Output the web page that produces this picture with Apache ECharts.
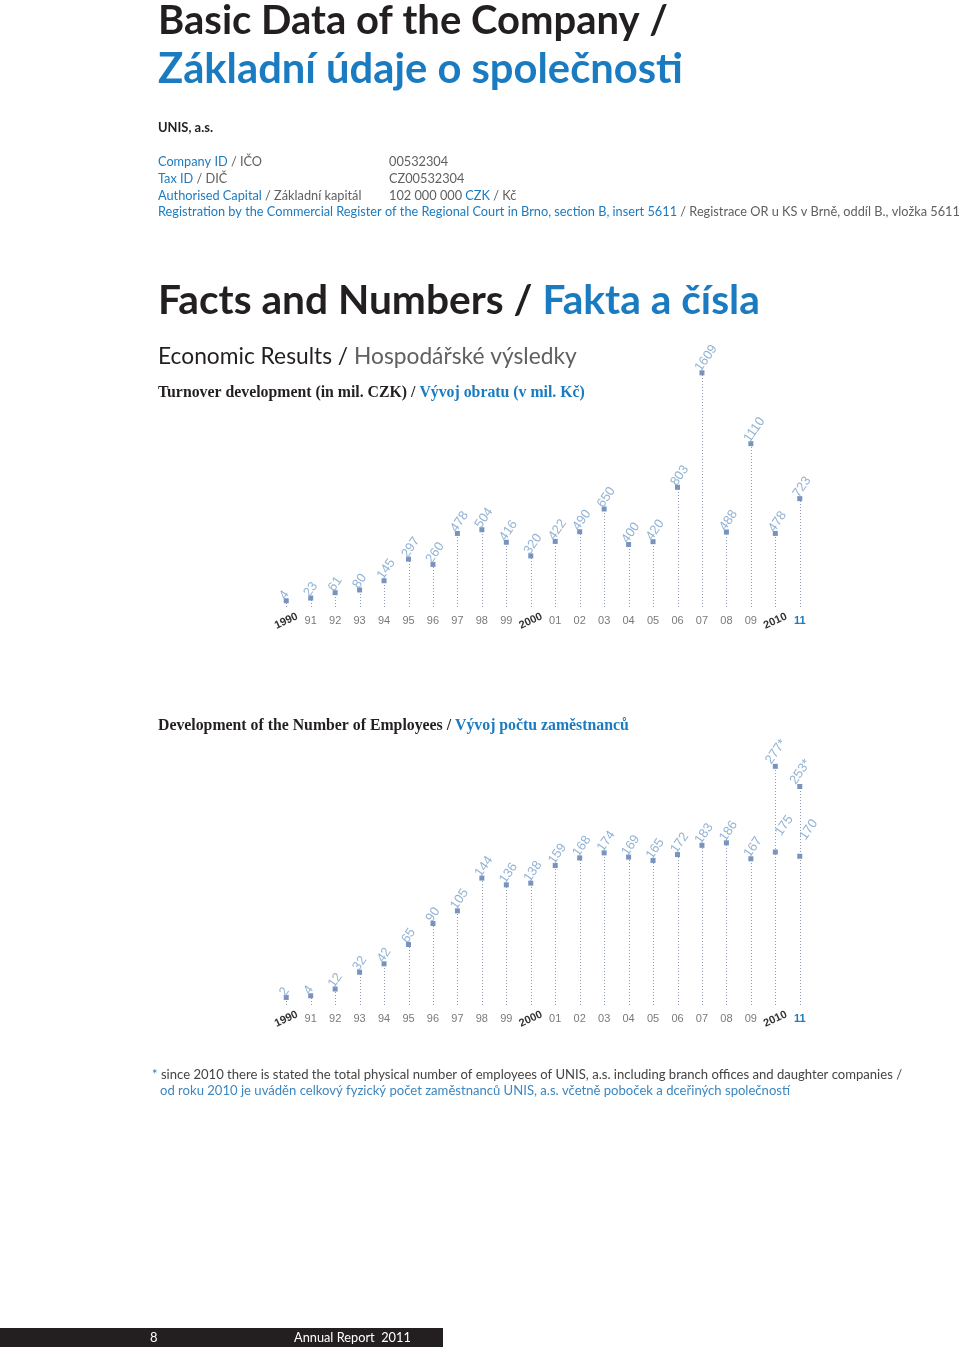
<!DOCTYPE html>
<html><head><meta charset="utf-8">
<script src="https://cdn.jsdelivr.net/npm/echarts@6/dist/echarts.min.js"></script>
<style>html,body{margin:0;padding:0;background:#fff}#c{width:960px;height:1349px}</style>
</head><body><div id="c"></div>
<script>
// ---- data ----
const years = ['1990','91','92','93','94','95','96','97','98','99','2000','01','02','03','04','05','06','07','08','09','2010','11'];
const decades = ['1990','2000','2010'];
const turnover = [4,23,61,80,145,297,260,478,504,416,320,422,490,650,400,420,803,1609,488,1110,478,723];
const employees = [2,4,12,32,42,65,90,105,144,136,138,159,168,174,169,165,172,183,186,167,175,170];
const employeesTotal = [null,null,null,null,null,null,null,null,null,null,null,null,null,null,null,null,null,null,null,null,277,253];

// ---- styles ----
const BLUE = '#1b7bc0', DARK = '#231f20', GREY = '#606060';
const LABEL = '#93b3d4', MARK = '#7893bd', STEM = '#8c9bb0';
const SANS = 'Lato', SERIF = 'Liberation Serif', NUM = 'Liberation Sans';

const mctx = document.createElement('canvas').getContext('2d');
function fit(str, weight, family, width) {
  mctx.font = weight + ' 100px "' + family + '"';
  return 100 * width / mctx.measureText(str).width;
}

function richText(x, baseline, parts, weight, family, size, align) {
  const rich = {};
  let text = '';
  parts.forEach((p, i) => {
    rich['p' + i] = {fill: p[1], fontSize: size, fontWeight: weight, fontFamily: family};
    text += '{p' + i + '|' + p[0] + '}';
  });
  return {type: 'text', x: x, y: baseline - 0.3 * size, z: 10,
    style: {text: text, rich: rich, fontSize: size, fontWeight: weight, fontFamily: family,
      verticalAlign: 'middle', align: align || 'left'}};
}
function joined(parts) { return parts.map(p => p[0]).join(''); }

const g = [];
function line(x, baseline, parts, weight, family, width, sizeOverride) {
  const size = sizeOverride || fit(joined(parts), weight, family, width);
  g.push(richText(x, baseline, parts, weight, family, size));
  return size;
}

// header
line(158, 33, [['Basic Data of the Company /', DARK]], 'bold', SANS, 510);
line(158, 82, [['Základní údaje o společnosti', BLUE]], 'bold', SANS, 525);
line(158, 132, [['UNIS, a.s.', DARK]], 'bold', SANS, 55);
const bodySize = fit('Registration by the Commercial Register of the Regional Court in Brno, section B, insert 5611 / Registrace OR u KS v Brně, oddíl B., vložka 5611', 'normal', SANS, 802);
line(158, 166, [['Company ID', BLUE], [' / IČO', GREY]], 'normal', SANS, 0, bodySize);
line(158, 183, [['Tax ID', BLUE], [' / DIČ', GREY]], 'normal', SANS, 0, bodySize);
line(158, 199.5, [['Authorised Capital', BLUE], [' / Základní kapitál', GREY]], 'normal', SANS, 0, bodySize);
line(158, 216, [['Registration by the Commercial Register of the Regional Court in Brno, section B, insert 5611', BLUE], [' / Registrace OR u KS v Brně, oddíl B., vložka 5611', GREY]], 'normal', SANS, 0, bodySize);
line(389, 166, [['00532304', GREY]], 'normal', SANS, 0, bodySize);
line(389, 183, [['CZ00532304', GREY]], 'normal', SANS, 0, bodySize);
line(389, 199.5, [['102 000 000 ', GREY], ['CZK', BLUE], [' / Kč', GREY]], 'normal', SANS, 0, bodySize);

line(158, 313, [['Facts and Numbers / ', DARK], ['Fakta a čísla', BLUE]], 'bold', SANS, 602);
line(158, 363, [['Economic Results / ', DARK], ['Hospodářské výsledky', GREY]], 'normal', SANS, 419);
const serifSize = line(158, 397.5, [['Turnover development (in mil. CZK) / ', DARK], ['Vývoj obratu (v mil. Kč)', BLUE]], 'bold', SERIF, 427);
line(158, 730.5, [['Development of the Number of Employees / ', DARK], ['Vývoj počtu zaměstnanců', BLUE]], 'bold', SERIF, 0, serifSize);

const noteSize = line(152, 1078.5, [['* ', BLUE], ['since 2010 there is stated the total physical number of employees of UNIS, a.s. including branch offices and daughter companies /', '#444']], 'normal', SANS, 751);
line(160, 1095, [['od roku 2010 je uváděn celkový fyzický počet zaměstnanců UNIS, a.s. včetně poboček a dceřiných společností', '#3d86bf']], 'normal', SANS, 0, noteSize);

// footer
g.push({type: 'rect', shape: {x: 0, y: 1328, width: 443, height: 19}, style: {fill: DARK}, z: 5});
line(150, 1342, [['8', '#fff']], 'normal', SANS, 0, 13);
line(294, 1342, [['Annual Report  2011', '#fff']], 'normal', SANS, 117);

// ---- charts ----
const Y = [
  {min: -40, max: 1840},
  {min: -7, max: 300}
];

function xAxes(gi) {
  const common = {type: 'category', gridIndex: gi, boundaryGap: true, position: 'bottom',
    axisLine: {show: false}, axisTick: {show: false}, splitLine: {show: false}};
  return [
    Object.assign({}, common, {
      data: years.map(y => y === '11' ? {value: y, textStyle: {color: BLUE, fontWeight: 'bold'}} : y),
      axisLabel: {interval: 0, margin: 8, fontSize: 11, color: '#7a7a7a', fontFamily: NUM,
        formatter: v => decades.includes(v) ? '' : v}
    }),
    Object.assign({}, common, {
      data: years,
      axisLabel: {interval: 0, margin: 14, rotate: 25, fontSize: 11, fontWeight: 'bold', color: '#333', fontFamily: NUM,
        align: 'center', verticalAlign: 'middle',
        formatter: v => decades.includes(v) ? v : ''}
    })
  ];
}

function stems(gi, tops) {
  const yMin = Y[gi].min;
  return {
    type: 'custom', xAxisIndex: gi * 2, yAxisIndex: gi, silent: true, z: 1,
    data: tops.map((v, i) => [i, v]),
    encode: {x: 0, y: 1},
    renderItem: function (params, api) {
      const i = api.value(0), v = api.value(1);
      const p0 = api.coord([i, yMin]), p1 = api.coord([i, v]);
      const x = Math.round(p0[0]) + 0.5;
      return {type: 'line', shape: {x1: x, y1: p0[1], x2: x, y2: p1[1]},
        style: {stroke: STEM, lineWidth: 1, lineDash: [1, 2]}};
    }
  };
}

function labelCfg(extra) {
  return Object.assign({show: true, position: 'top', distance: 6, rotate: 55, align: 'left',
    verticalAlign: 'middle', offset: [-7, 0], color: LABEL, fontSize: 13, fontFamily: NUM}, extra || {});
}

function points(gi, data, fmt) {
  return {
    type: 'scatter', xAxisIndex: gi * 2, yAxisIndex: gi, z: 3, silent: true,
    symbol: 'rect', symbolSize: 5, itemStyle: {color: MARK, opacity: 1},
    data: data,
    label: labelCfg(fmt ? {formatter: fmt} : {})
  };
}

const empTops = employees.map((v, i) => Math.max(v, employeesTotal[i] || 0));
const empMain = employees.map((v, i) => employeesTotal[i] != null ? {value: v, label: {offset: [9, -3]}} : v);

const option = {
  backgroundColor: '#fff',
  animation: false,
  grid: [
    {left: 274, width: 538, top: 340, height: 267},
    {left: 274, width: 538, top: 747, height: 258}
  ],
  xAxis: [].concat(xAxes(0), xAxes(1)),
  yAxis: [
    {type: 'value', gridIndex: 0, min: Y[0].min, max: Y[0].max, show: false},
    {type: 'value', gridIndex: 1, min: Y[1].min, max: Y[1].max, show: false}
  ],
  series: [
    stems(0, turnover),
    points(0, turnover),
    stems(1, empTops),
    points(1, empMain),
    Object.assign(points(1, employeesTotal), {label: labelCfg({formatter: p => p.value + '*', offset: [-8, -3]})})
  ],
  graphic: g
};

const chart = echarts.init(document.getElementById('c'), null, {renderer: 'canvas', width: 960, height: 1349});
chart.setOption(option);
</script>
</body></html>
